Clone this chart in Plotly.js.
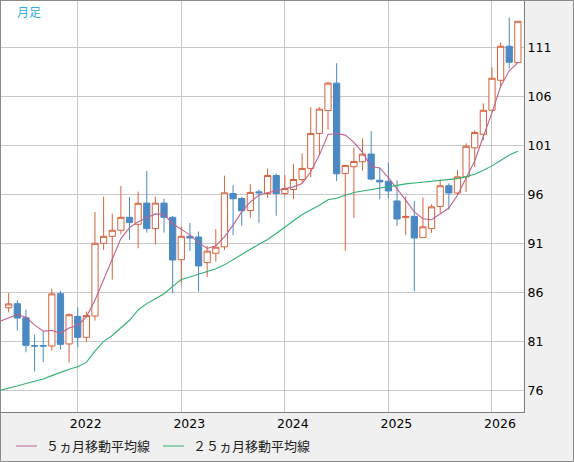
<!DOCTYPE html>
<html>
<head>
<meta charset="utf-8">
<script src="https://cdn.plot.ly/plotly-3.0.1.min.js"></script>
<style>
html,body{margin:0;padding:0;background:#f0f0f0;}
#chart{width:574px;height:462px;}
</style>
</head>
<body>
<div id="chart"></div>
<script>
// Monthly candles (月足), oldest first
const opens = [84.42,84.84,83.40,80.55,80.55,80.52,85.86,80.73,83.54,81.41,
83.58,91.00,91.71,92.33,93.65,92.94,95.10,92.50,95.10,93.65,
89.33,91.71,91.64,89.03,89.98,90.64,96.08,95.57,94.35,96.25,
96.08,97.92,96.08,96.49,97.51,98.64,102.21,104.55,107.34,98.13,
98.81,99.32,100.10,97.43,97.33,95.32,93.62,93.75,91.58,92.50,
94.76,96.88,96.13,97.78,100.74,102.12,104.57,107.63,111.10,109.44];
const highs = [85.92,85.20,84.23,81.68,82.02,86.38,86.17,83.85,84.47,84.05,
94.20,95.76,94.03,96.85,95.73,96.27,98.38,95.76,95.56,93.80,
92.70,93.07,92.20,90.70,92.45,97.90,96.93,95.74,97.04,96.49,
98.64,98.13,97.96,99.08,100.17,104.89,104.89,107.48,109.38,98.97,
100.78,101.70,102.44,98.72,99.23,97.43,95.79,95.32,95.66,94.98,
97.50,97.12,98.45,101.20,102.53,105.27,108.96,111.51,114.03,113.65];
const lows = [83.97,82.10,79.88,77.94,78.86,80.05,80.15,78.86,80.39,80.90,
83.11,90.32,87.29,91.92,91.37,90.49,92.09,90.90,92.09,85.90,
86.92,90.22,86.07,87.56,89.13,90.30,91.83,92.79,93.60,93.09,
95.64,93.81,95.85,95.51,97.17,97.75,100.00,102.58,97.34,90.23,
93.60,98.40,97.41,95.49,95.62,92.77,91.85,86.10,91.55,92.05,
94.09,94.43,95.90,96.24,98.80,101.52,104.50,106.88,108.82,109.44];
const closes = [84.82,83.38,80.59,80.52,80.52,85.84,80.69,83.72,81.41,83.63,
91.00,91.71,92.33,93.65,93.11,95.08,92.50,95.10,93.65,89.30,
91.71,91.54,88.69,90.20,90.60,96.15,95.54,94.32,96.19,96.15,
97.92,96.08,96.59,97.51,98.64,102.21,104.69,107.34,98.09,98.94,
99.35,100.10,97.55,97.26,96.34,93.48,93.75,91.54,92.68,94.72,
96.87,96.13,97.78,100.90,102.30,104.57,107.84,111.10,109.47,113.65];
// Moving averages (first value is the month before the first candle)
const ma5 = [83.05,83.42,83.73,83.45,82.68,82.04,82.10,81.84,82.36,82.62,83.50,
85.20,87.33,89.47,91.48,92.60,93.20,93.62,94.00,93.96,93.00,
92.45,91.84,91.07,90.47,90.75,91.65,92.85,94.21,95.23,95.91,
96.19,96.32,96.59,96.76,97.10,98.30,100.00,102.10,102.20,102.04,
101.29,100.27,98.83,98.69,97.70,96.60,95.40,94.20,93.50,93.40,
94.00,94.60,95.90,97.70,99.40,101.90,104.30,107.00,108.60,109.44];
const ma25 = [76.00,76.20,76.45,76.70,76.95,77.15,77.50,77.85,78.15,78.40,78.85,
80.00,81.00,81.60,82.40,83.15,84.20,84.85,85.35,85.86,86.60,
87.30,87.56,87.84,88.18,88.41,88.80,89.30,89.86,90.40,90.88,
91.39,92.00,92.68,93.30,93.94,94.38,94.89,95.45,95.60,95.90,
96.19,96.33,96.48,96.62,96.80,96.95,97.06,97.16,97.24,97.33,
97.39,97.46,97.60,97.80,98.05,98.45,98.90,99.45,100.00,100.38];
const yearLabels = ['2022','2023','2024','2025','2026'];
const yearTickIndex = [8,20,32,44,56];
const yTicks = [76,81,86,91,96,101,106,111];
const seriesNames = ['５ヵ月移動平均線','２５ヵ月移動平均線'];
const periodLabel = '月足';

// ---- build ----
const W = 574, H = 462;
const M = {l:1, r:50, t:1, b:50};
const PW = W - M.l - M.r, PH = H - M.t - M.b;
const px = p => (p - M.l) / PW;          // pixel -> paper x
const py = p => (H - M.b - p) / PH;      // pixel -> paper y

const idx = closes.map((_, i) => i);
const maIdx = ma5.map((_, i) => i - 1);

const col5 = '#c2618f', col25 = '#2fb26f';
const upCol = '#d8623d', dnCol = '#4a89c3';
const tickFont = {family:'DejaVu Sans, Liberation Sans, sans-serif', size:12.5, color:'#000000'};
const jpFont = 'Noto Sans CJK JP, sans-serif';

const traces = [
  {type:'candlestick', x:idx, open:opens, high:highs, low:lows, close:closes,
   increasing:{line:{color:upCol, width:1}, fillcolor:'#ffffff'},
   decreasing:{line:{color:dnCol, width:1}, fillcolor:dnCol},
   whiskerwidth:0, showlegend:false, hoverinfo:'skip'},
  {type:'scatter', mode:'lines', x:maIdx, y:ma5, name:seriesNames[0],
   line:{color:col5, width:1.1}, showlegend:false, hoverinfo:'skip'},
  {type:'scatter', mode:'lines', x:maIdx, y:ma25, name:seriesNames[1],
   line:{color:col25, width:1.1}, showlegend:false, hoverinfo:'skip'}
];

const layout = {
  width:W, height:H, margin:M,
  paper_bgcolor:'#f0f0f0', plot_bgcolor:'#ffffff',
  boxgap:0.15, boxgroupgap:0.15,
  showlegend:false,
  xaxis:{range:[-0.89, 59.71], tickmode:'array', tickvals:yearTickIndex, ticktext:yearLabels,
         ticklabelshift:8, ticks:'', showgrid:true, gridcolor:'#c8c8c8', gridwidth:1,
         zeroline:false, showline:true, mirror:true, linecolor:'#7c7c7c', linewidth:1,
         tickfont:tickFont, rangeslider:{visible:false}, fixedrange:true},
  yaxis:{range:[73.79, 115.72], side:'right', tickmode:'array', tickvals:yTicks,
         ticks:'', showgrid:true, gridcolor:'#c8c8c8', gridwidth:1,
         zeroline:false, showline:true, mirror:true, linecolor:'#7c7c7c', linewidth:1,
         tickfont:tickFont, fixedrange:true},
  shapes:[
    {type:'rect', xref:'paper', yref:'paper', x0:px(0.5), x1:px(573.5), y0:py(461.5), y1:py(0.5),
     line:{color:'#8a8a8a', width:1}, fillcolor:'rgba(0,0,0,0)', layer:'above'},
    {type:'line', xref:'paper', yref:'paper', x0:px(16), x1:px(37), y0:py(446), y1:py(446),
     line:{color:col5, width:1}},
    {type:'line', xref:'paper', yref:'paper', x0:px(163), x1:px(184), y0:py(446), y1:py(446),
     line:{color:col25, width:1}}
  ],
  annotations:[
    {xref:'paper', yref:'paper', x:px(15), y:py(12), xanchor:'left', yanchor:'middle',
     text:periodLabel, showarrow:false, font:{family:jpFont, size:12, color:'#2fb0e6'}},
    {xref:'paper', yref:'paper', x:px(44), y:py(446), xanchor:'left', yanchor:'middle',
     text:seriesNames[0], showarrow:false, font:{family:jpFont, size:13, color:'#222222'}},
    {xref:'paper', yref:'paper', x:px(191), y:py(446), xanchor:'left', yanchor:'middle',
     text:seriesNames[1], showarrow:false, font:{family:jpFont, size:13, color:'#222222'}}
  ]
};

Plotly.newPlot('chart', traces, layout, {staticPlot:true, displayModeBar:false});
</script>
</body>
</html>
